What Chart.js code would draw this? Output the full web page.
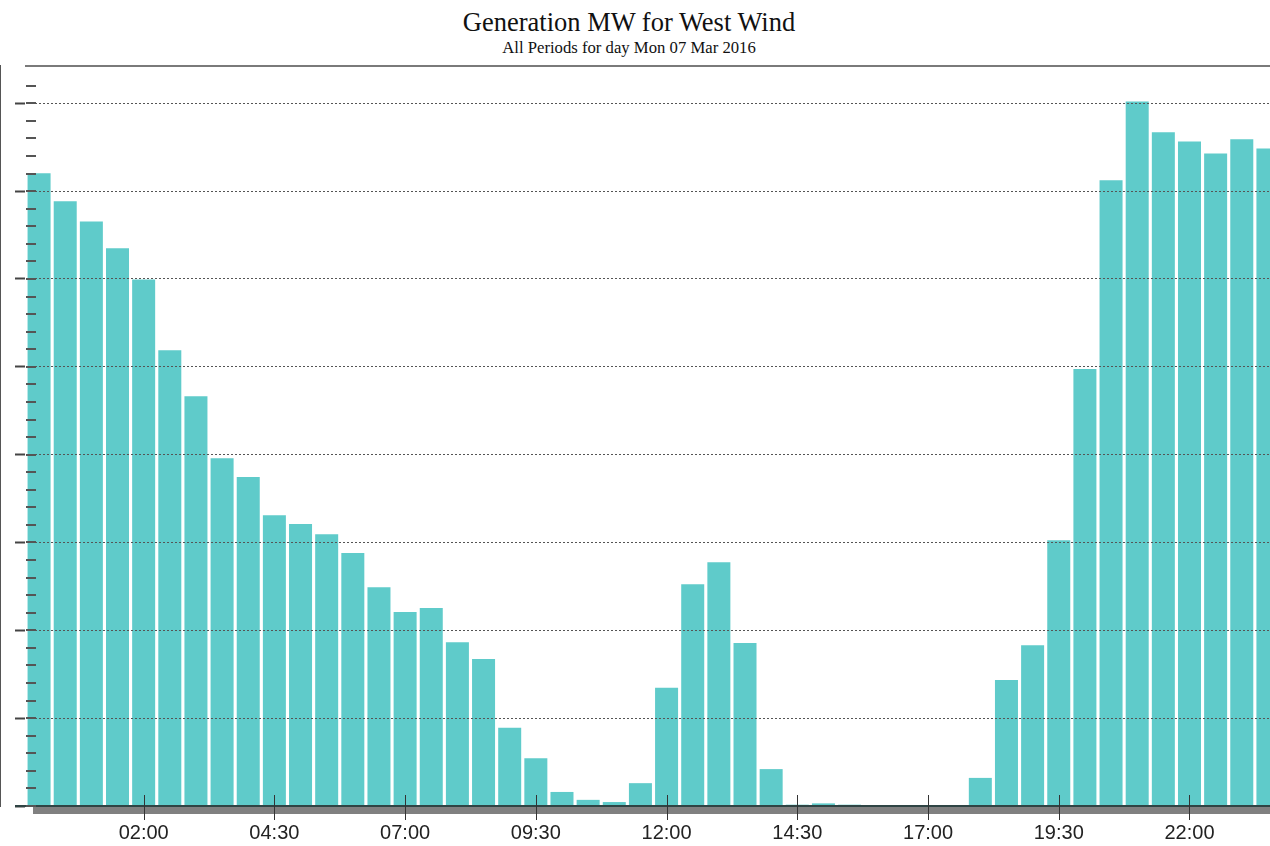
<!DOCTYPE html>
<html>
<head>
<meta charset="utf-8">
<title>Generation MW for West Wind</title>
<script src="https://cdn.jsdelivr.net/npm/chart.js@4.4.1/dist/chart.umd.min.js"></script>
<style>
    html, body {
        margin: 0;
        padding: 0;
        overflow: hidden;
        background: #ffffff;
    }
    .chart-title {
        position: absolute;
        left: 0;
        width: 1258px;
        text-align: center;
        font-family: "Liberation Serif", "Times New Roman", serif;
        color: #111111;
        white-space: nowrap;
    }
    #main-title {
        top: 9px;
        font-size: 26.5px;
        line-height: 26px;
    }
    #sub-title {
        top: 40px;
        font-size: 16.7px;
        line-height: 16px;
    }
    #chart-box {
        position: absolute;
        left: 0;
        top: 0;
    }
</style>
</head>
<body>

<div class="chart-title" id="main-title">Generation MW for West Wind</div>
<div class="chart-title" id="sub-title">All Periods for day Mon 07 Mar 2016</div>

<div id="chart-box">
    <canvas id="gen-chart" width="1281" height="846"></canvas>
</div>

<script>

const periods = [
    "00:00", "00:30", "01:00", "01:30", "02:00", "02:30", "03:00", "03:30",
    "04:00", "04:30", "05:00", "05:30", "06:00", "06:30", "07:00", "07:30",
    "08:00", "08:30", "09:00", "09:30", "10:00", "10:30", "11:00", "11:30",
    "12:00", "12:30", "13:00", "13:30", "14:00", "14:30", "15:00", "15:30",
    "16:00", "16:30", "17:00", "17:30", "18:00", "18:30", "19:00", "19:30",
    "20:00", "20:30", "21:00", "21:30", "22:00", "22:30", "23:00", "23:30"
];

const generationMW = [
    144.1, 137.7, 133.1, 127.0, 119.9, 103.8, 93.3, 79.2,
    74.9, 66.2, 64.2, 61.9, 57.6, 49.8, 44.2, 45.1,
    37.3, 33.5, 17.8, 10.9, 3.2, 1.4, 0.9, 5.2,
    26.9, 50.5, 55.5, 37.1, 8.4, 0.3, 0.6, 0.3,
    0, 0, 0, 0, 6.4, 28.7, 36.6, 60.5,
    99.5, 142.5, 160.4, 153.4, 151.3, 148.6, 151.8, 149.7
];

// labelled periods on the time axis
const shownLabels = ["02:00", "04:30", "07:00", "09:30", "12:00", "14:30", "17:00", "19:30", "22:00"];

const yMax = 168.5;
const minorStep = 4;
const majorStep = 20;


function isMajor(value) {
    return value % majorStep === 0;
}


const axisDecor = {
    id: 'axisDecor',
    afterDraw(chart) {
        const ctx = chart.ctx;
        const area = chart.chartArea;
        const xScale = chart.scales.x;
        const yScale = chart.scales.y;

        ctx.save();

        // grey shadow band under the time axis
        ctx.fillStyle = '#808080';
        ctx.fillRect(area.left + 7, area.bottom + 1, area.right - area.left, 7);

        // base line
        ctx.strokeStyle = '#2f4444';
        ctx.lineWidth = 2;
        ctx.beginPath();
        ctx.moveTo(area.left - 11, area.bottom);
        ctx.lineTo(area.right, area.bottom);
        ctx.stroke();

        // top frame line
        ctx.strokeStyle = '#7a7a7a';
        ctx.lineWidth = 2;
        ctx.beginPath();
        ctx.moveTo(area.left - 1, area.top);
        ctx.lineTo(area.right, area.top);
        ctx.stroke();

        // inner tick marks on the value axis
        ctx.strokeStyle = '#555555';
        ctx.lineWidth = 2;
        yScale.ticks.forEach(tick => {
            if (tick.value % minorStep !== 0) {
                return;
            }
            const y = Math.round(yScale.getPixelForValue(tick.value));
            ctx.beginPath();
            ctx.moveTo(area.left, y);
            ctx.lineTo(area.left + 10, y);
            ctx.stroke();
        });

        // tick marks on the time axis
        ctx.strokeStyle = '#333333';
        ctx.lineWidth = 1;
        periods.forEach((p, i) => {
            if (shownLabels.includes(p)) {
                const x = Math.round(xScale.getPixelForValue(i)) + 0.5;
                ctx.beginPath();
                ctx.moveTo(x, area.bottom - 11);
                ctx.lineTo(x, area.bottom + 14);
                ctx.stroke();
            }
        });

        ctx.restore();
    }
};


function createGenerationChart() {

    const ctx = document.getElementById("gen-chart").getContext("2d");

    new Chart(ctx, {
        type: 'bar',
        data: {
            labels: periods,
            datasets: [{
                label: 'Generation MW',
                data: generationMW,
                backgroundColor: '#5fcbca',
                borderWidth: 0,
                categoryPercentage: 1.0,
                barPercentage: 0.88
            }]
        },
        options: {
            responsive: false,
            animation: false,
            layout: {
                padding: { left: 15, right: 0, top: 66, bottom: 0 }
            },
            plugins: {
                legend: { display: false },
                title: { display: false },
                tooltip: { enabled: false }
            },
            scales: {
                x: {
                    offset: true,
                    afterFit: function (scale) {
                        scale.height = 40;
                    },
                    grid: {
                        display: true,
                        offset: false,
                        drawOnChartArea: false,
                        drawTicks: true,
                        tickLength: 13,
                        tickColor: 'rgba(0,0,0,0)'
                    },
                    border: { display: false },
                    ticks: {
                        autoSkip: false,
                        maxRotation: 0,
                        minRotation: 0,
                        padding: 5,
                        color: '#222222',
                        font: { family: 'Liberation Sans, Arial, sans-serif', size: 20, lineHeight: 0.95 },
                        callback: function (value, index) {
                            const label = periods[index];
                            return shownLabels.includes(label) ? label : '';
                        }
                    }
                },
                y: {
                    min: 0,
                    max: yMax,
                    grid: {
                        z: 1,
                        lineWidth: 1,
                        drawTicks: true,
                        tickLength: 11,
                        tickWidth: 2,
                        color: function (c) {
                            const v = c.tick ? c.tick.value : 0;
                            return (v > 0 && isMajor(v)) ? '#555555' : 'rgba(0,0,0,0)';
                        },
                        tickColor: function (c) {
                            const v = c.tick ? c.tick.value : 0;
                            return isMajor(v) ? '#444444' : 'rgba(0,0,0,0)';
                        }
                    },
                    border: {
                        display: true,
                        color: '#555555',
                        width: 2,
                        dash: [2, 2]
                    },
                    ticks: {
                        display: false,
                        stepSize: minorStep
                    }
                }
            }
        },
        plugins: [axisDecor]
    });
}

createGenerationChart();

</script>
</body>
</html>
